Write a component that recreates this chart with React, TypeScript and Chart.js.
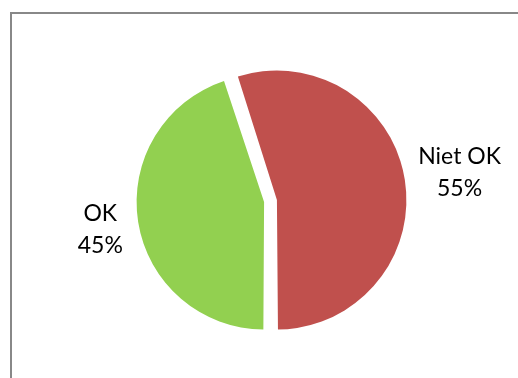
import React, { useEffect, useRef } from "react";
import { Chart, registerables } from "chart.js";

Chart.register(...registerables);

const categories = ["OK", "Niet OK"];
const values = [45, 55];
const colors = ["#92D050", "#C0504D"];

const labelPlugin = {
  id: "outsideLabels",
  afterDatasetsDraw(chart: any) {
    const ctx = chart.ctx;
    const meta = chart.getDatasetMeta(0);
    const total = values.reduce((a, b) => a + b, 0);
    ctx.save();
    ctx.font = "23px Lato";
    ctx.fillStyle = "#000";
    ctx.textAlign = "center";
    ctx.textBaseline = "middle";
    const lineH = 32;
    meta.data.forEach((arc: any, i: number) => {
      const p = arc.getProps(["x", "y", "startAngle", "endAngle", "outerRadius"], true);
      const mid = (p.startAngle + p.endAngle) / 2;
      const off = (arc.options.offset || 0) / 4;
      const cx = p.x + Math.cos(mid) * off;
      const cy = p.y + Math.sin(mid) * off;
      const lines = [categories[i], Math.round((values[i] / total) * 100) + "%"];
      const w = Math.max(...lines.map((l) => ctx.measureText(l).width));
      const h = lines.length * lineH;
      const dist = p.outerRadius + 20;
      const ax = cx + Math.cos(mid) * dist + Math.sign(Math.cos(mid)) * w / 2;
      const ay = cy + Math.sin(mid) * (dist + h / 2);
      lines.forEach((l, j) => {
        ctx.fillText(l, ax, ay + (j - (lines.length - 1) / 2) * lineH);
      });
    });
    ctx.restore();
  },
};

export default function App() {
  const ref = useRef<HTMLCanvasElement>(null);
  useEffect(() => {
    const chart = new Chart(ref.current!, {
      type: "pie",
      data: {
        labels: categories,
        datasets: [
          {
            data: values,
            backgroundColor: colors,
            borderWidth: 0,
            offset: 26,
            hoverOffset: 0,
          },
        ],
      },
      options: {
        responsive: false,
        animation: false,
        rotation: 180,
        radius: 123,
        layout: { padding: { left: 23, right: 0, top: 24, bottom: 0 } },
        plugins: { legend: { display: false }, tooltip: { enabled: false } },
      } as any,
      plugins: [labelPlugin],
    });
    return () => chart.destroy();
  }, []);
  return (
    <div style={{ position: "fixed", left: 0, top: 0, width: 518, height: 378, background: "#fff" }}>
      <div
        style={{
          position: "absolute",
          left: 10,
          top: 12,
          right: 0,
          bottom: 0,
          borderLeft: "2px solid #888888",
          borderTop: "2px solid #888888",
        }}
      />
      <canvas ref={ref} width={518} height={378} style={{ position: "absolute", left: 0, top: 0 }} />
    </div>
  );
}
